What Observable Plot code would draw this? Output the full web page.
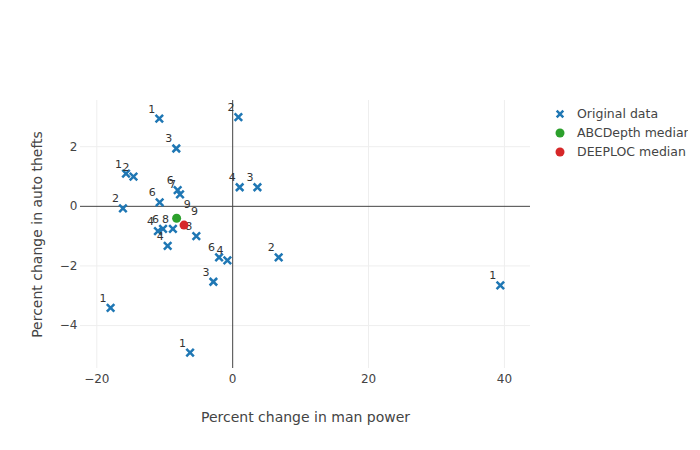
<!DOCTYPE html>
<html><head><meta charset="utf-8">
<script src="https://cdn.jsdelivr.net/npm/d3@7"></script>
<script src="https://cdn.jsdelivr.net/npm/@observablehq/plot@0.6"></script>
<style>
body{margin:0;background:#fff;font-family:"DejaVu Sans",sans-serif;}
#wrap{position:relative;width:700px;height:450px;}
#legend{position:absolute;left:554px;top:104px;width:134px;overflow:hidden;font-size:12.5px;color:#444;}
.row{display:flex;align-items:center;height:19px;white-space:nowrap;}
.row svg{margin-right:11px;flex:none;}
</style></head><body>
<div id="wrap"><div id="chart"></div><div id="legend"></div></div>
<script>
// Original data (percent change in man power, percent change in auto thefts, depth label)
const manPower = [-10.8, -8.3, -15.7, -14.6, -8.1, -7.75, -10.75, -16.15, 0.84, 1.03, 3.64, -11.0, -10.25, -8.8, -5.35, -9.57, -2.0, -0.78, -2.84, -17.97, -6.27, 6.77, 39.4];
const autoThefts = [2.94, 1.94, 1.10, 1.00, 0.54, 0.40, 0.13, -0.07, 2.99, 0.64, 0.64, -0.83, -0.76, -0.76, -1.00, -1.33, -1.71, -1.81, -2.53, -3.41, -4.91, -1.71, -2.65];
const depthLabels = ["1","3","1","2","6","7","6","2","2","4","3","4","6","8","8","4","6","4","3","1","1","2","1"];

// Medians
const medianNames = ["ABCDepth median", "DEEPLOC median"];
const medianX = [-8.25, -7.16];
const medianY = [-0.40, -0.63];
const medianLabels = ["9", "9"];
const medianColors = ["#2ca02c", "#d62728"];

const xTicks = [-20, 0, 20, 40];
const yTicks = [-4, -2, 0, 2];
const xTitle = "Percent change in man power";
const yTitle = "Percent change in auto thefts";
const seriesName = "Original data";

const points = manPower.map((x, i) => ({x, y: autoThefts[i], label: depthLabels[i]}));
const medians = medianNames.map((name, i) => ({name, x: medianX[i], y: medianY[i], label: medianLabels[i], color: medianColors[i]}));
const fmt = d => d < 0 ? "\u2212" + (-d) : String(d);

const chart = Plot.plot({
  width: 700, height: 450,
  marginLeft: 80, marginRight: 170, marginTop: 100, marginBottom: 82,
  x: {domain: [-22.4, 43.84]},
  y: {domain: [-5.44, 3.55]},
  style: {fontFamily: "DejaVu Sans", color: "#444", background: "#fff"},
  marks: [
    Plot.ruleY(yTicks.filter(d => d !== 0), {stroke: "#eeeeee", strokeWidth: 1}),
    Plot.ruleX(xTicks.filter(d => d !== 0), {stroke: "#eeeeee", strokeWidth: 1}),
    Plot.ruleX([0], {stroke: "#444", strokeWidth: 1}),
    Plot.ruleY([0], {stroke: "#444", strokeWidth: 1}),
    Plot.axisX({ticks: xTicks, tickSize: 0, tickPadding: 6, fontSize: 12, tickFormat: fmt, label: null}),
    Plot.axisY({ticks: yTicks, tickSize: 0, tickPadding: 3, fontSize: 12, tickFormat: fmt, label: null}),
    Plot.axisX({ticks: [], label: xTitle, labelAnchor: "center", labelArrow: "none", labelOffset: 53, fontSize: 14}),
    Plot.axisY({ticks: [], label: yTitle, labelAnchor: "center", labelArrow: "none", labelOffset: 48, fontSize: 14}),
    Plot.dot(points, {x: "x", y: "y", symbol: "times", r: 3.5, stroke: "#1f77b4", strokeWidth: 2.5}),
    Plot.text(points, {x: "x", y: "y", text: "label", textAnchor: "end", lineAnchor: "bottom", dx: -4, dy: -6, fontSize: 11, fill: "#333"}),
    Plot.dot(medians, {x: "x", y: "y", r: 4.5, fill: "color"}),
    Plot.text(medians, {x: "x", y: "y", text: "label", textAnchor: "start", lineAnchor: "bottom", dx: 7, dy: -10, fontSize: 11, fill: "#333"})
  ]
});
document.getElementById("chart").appendChild(chart);

// Legend
const legend = document.getElementById("legend");
const entries = [{name: seriesName, kind: "times", color: "#1f77b4"}, ...medians.map(m => ({name: m.name, kind: "circle", color: m.color}))];
for (const e of entries) {
  const row = document.createElement("div");
  row.className = "row";
  const icon = e.kind === "times"
    ? `<svg width="12" height="16" viewBox="-6 -8 12 16"><path d="M-3.3,-3.3L3.3,3.3M-3.3,3.3L3.3,-3.3" stroke="${e.color}" stroke-width="2.5"/></svg>`
    : `<svg width="12" height="16" viewBox="-6 -8 12 16"><circle r="4.5" fill="${e.color}"/></svg>`;
  row.innerHTML = icon + `<span>${e.name}</span>`;
  legend.appendChild(row);
}
</script>
</body></html>
